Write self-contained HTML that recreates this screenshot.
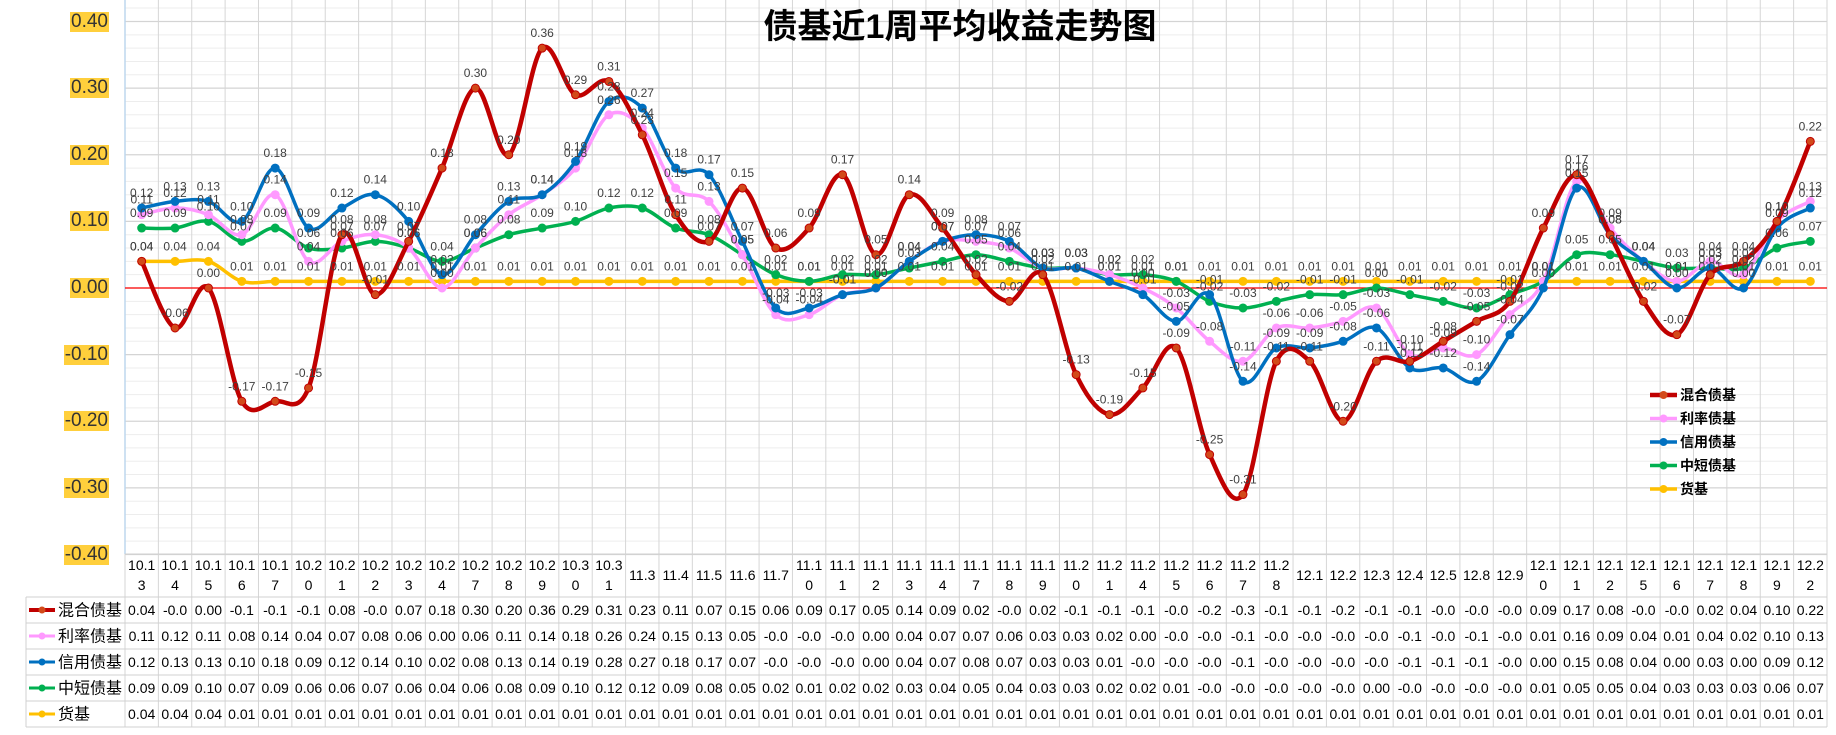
<!DOCTYPE html>
<html><head><meta charset="utf-8"><style>
html,body{margin:0;padding:0;background:#fff;}
#wrap{position:relative;width:1836px;height:735px;overflow:hidden;font-family:"Liberation Sans","Noto Sans CJK SC",sans-serif;}
.yl{position:absolute;right:1727px;background:#FFCF3C;color:#333;font-size:19px;line-height:20px;padding:0 1px;}
</style></head><body>
<div id="wrap">
<svg id="chart" width="1836" height="735" xmlns="http://www.w3.org/2000/svg"></svg>
</div>
<script>
const categories=["10.13","10.14","10.15","10.16","10.17","10.20","10.21","10.22","10.23","10.24","10.27","10.28","10.29","10.30","10.31","11.3","11.4","11.5","11.6","11.7","11.10","11.11","11.12","11.13","11.14","11.17","11.18","11.19","11.20","11.21","11.24","11.25","11.26","11.27","11.28","12.1","12.2","12.3","12.4","12.5","12.8","12.9","12.10","12.11","12.12","12.15","12.16","12.17","12.18","12.19","12.22"];
const hunhe=[0.04,-0.06,0.00,-0.17,-0.17,-0.15,0.08,-0.01,0.07,0.18,0.30,0.20,0.36,0.29,0.31,0.23,0.11,0.07,0.15,0.06,0.09,0.17,0.05,0.14,0.09,0.02,-0.02,0.02,-0.13,-0.19,-0.15,-0.09,-0.25,-0.31,-0.11,-0.11,-0.20,-0.11,-0.11,-0.08,-0.05,-0.02,0.09,0.17,0.08,-0.02,-0.07,0.02,0.04,0.10,0.22];
const lilv=[0.11,0.12,0.11,0.08,0.14,0.04,0.07,0.08,0.06,0.00,0.06,0.11,0.14,0.18,0.26,0.24,0.15,0.13,0.05,-0.04,-0.04,-0.01,0.00,0.04,0.07,0.07,0.06,0.03,0.03,0.02,0.00,-0.03,-0.08,-0.11,-0.06,-0.06,-0.05,-0.03,-0.10,-0.09,-0.10,-0.04,0.01,0.16,0.09,0.04,0.01,0.04,0.02,0.10,0.13];
const xinyong=[0.12,0.13,0.13,0.10,0.18,0.09,0.12,0.14,0.10,0.02,0.08,0.13,0.14,0.19,0.28,0.27,0.18,0.17,0.07,-0.03,-0.03,-0.01,0.00,0.04,0.07,0.08,0.07,0.03,0.03,0.01,-0.01,-0.05,-0.01,-0.14,-0.09,-0.09,-0.08,-0.06,-0.12,-0.12,-0.14,-0.07,0.00,0.15,0.08,0.04,0.00,0.03,0.00,0.09,0.12];
const zhongduan=[0.09,0.09,0.10,0.07,0.09,0.06,0.06,0.07,0.06,0.04,0.06,0.08,0.09,0.10,0.12,0.12,0.09,0.08,0.05,0.02,0.01,0.02,0.02,0.03,0.04,0.05,0.04,0.03,0.03,0.02,0.02,0.01,-0.02,-0.03,-0.02,-0.01,-0.01,0.00,-0.01,-0.02,-0.03,-0.01,0.01,0.05,0.05,0.04,0.03,0.03,0.03,0.06,0.07];
const huoji=[0.04,0.04,0.04,0.01,0.01,0.01,0.01,0.01,0.01,0.01,0.01,0.01,0.01,0.01,0.01,0.01,0.01,0.01,0.01,0.01,0.01,0.01,0.01,0.01,0.01,0.01,0.01,0.01,0.01,0.01,0.01,0.01,0.01,0.01,0.01,0.01,0.01,0.01,0.01,0.01,0.01,0.01,0.01,0.01,0.01,0.01,0.01,0.01,0.01,0.01,0.01];
const seriesNames=["混合债基","利率债基","信用债基","中短债基","货基"];
const yTicks=[0.40,0.30,0.20,0.10,0.00,-0.10,-0.20,-0.30,-0.40];

const NS="http://www.w3.org/2000/svg";
const svg=document.getElementById('chart');
const L=125,R=1827,T=21,B=554;
const colW=(R-L)/categories.length;
function xs(i){return L+colW*(i+0.5);}
function ys(v){return 288-v*(B-T)/0.8;}
function mk(tag,attrs,parent){const e=document.createElementNS(NS,tag);for(const k in attrs)e.setAttribute(k,attrs[k]);(parent||svg).appendChild(e);return e;}

// grid
const grid=mk('g',{});


for(let k=-20;k<=20;k++){const v=k*0.02;const major=Math.abs(Math.round(v*100)%10)===0;
 mk('line',{x1:L,x2:R,y1:ys(v),y2:ys(v),stroke:major?'#D4D4D4':'#EDEDED','stroke-width':major?1.3:1},grid);}
mk('line',{x1:L,x2:R,y1:8,y2:8,stroke:'#EDEDED'},grid);
for(let i=0;i<=categories.length;i++){const x=L+colW*i;mk('line',{x1:x,x2:x,y1:0,y2:727,stroke:'#D6D6D6'},grid);}
mk('line',{x1:L,x2:L,y1:0,y2:554,stroke:'#BDD7EE','stroke-width':1.5},grid);
// table lines
const tb=mk('g',{});


const rowsY=[554,597,623,649,675,701,727];
rowsY.forEach((y,j)=>mk('line',{x1:j<1?L:26,x2:R,y1:y,y2:y,stroke:'#D0D0D0'},tb));
mk('line',{x1:26,x2:26,y1:597,y2:727,stroke:'#D0D0D0'},tb);

// zero line
const z=mk('line',{x1:L,x2:R,y1:ys(0),y2:ys(0),stroke:'#FF0000','stroke-width':1.2});



// title
const title=mk('text',{x:960,y:38,'text-anchor':'middle','font-size':34,'font-weight':'bold',fill:'#000','font-family':'"Liberation Sans","Noto Sans CJK SC",sans-serif'});
title.textContent='债基近1周平均收益走势图';



// y labels
const wrap=document.getElementById('wrap');
yTicks.forEach(v=>{const d=document.createElement('div');d.className='yl';d.textContent=v.toFixed(2);d.style.top=(ys(v)-10)+'px';
 
 
 wrap.appendChild(d);});

function pathFor(vals){const p=vals.map((v,i)=>[xs(i),ys(v)]);let d='M'+p[0][0]+','+p[0][1];
 for(let i=0;i<p.length-1;i++){const p0=p[Math.max(0,i-1)],p1=p[i],p2=p[i+1],p3=p[Math.min(p.length-1,i+2)];
  const c1=[p1[0]+(p2[0]-p0[0])/6,p1[1]+(p2[1]-p0[1])/6],c2=[p2[0]-(p3[0]-p1[0])/6,p2[1]-(p3[1]-p1[1])/6];
  d+=` C${c1[0]},${c1[1]} ${c2[0]},${c2[1]} ${p2[0]},${p2[1]}`;}
 return d;}

const allSeries=[hunhe,lilv,xinyong,zhongduan,huoji];
const colors=['#C00000','#FF99FF','#0070C0','#00B050','#FFC000'];
const mcolors=['#D24A1A','#FF99FF','#0070C0','#00B050','#FFC000'];
const widths=[4.5,3.5,3.5,3.5,3.5];
const keys=['hunhe','lilv','xinyong','zhongduan','huoji'];
const drawOrder=[4,3,1,2,0];
drawOrder.forEach(s=>{const vals=allSeries[s];
 const g=mk('g',{});
 
 
 const pth=mk('path',{d:pathFor(vals),fill:'none',stroke:colors[s],'stroke-width':widths[s],'stroke-linejoin':'round'},g);
 
 
 vals.forEach((v,i)=>{const c=mk('circle',{cx:xs(i),cy:ys(v),r:4,fill:mcolors[s],stroke:s===0?'#C00000':mcolors[s],'stroke-width':1},g);
  
  });
});
// data labels
const lg=mk('g',{});


allSeries.forEach((vals,s)=>vals.forEach((v,i)=>{const t=mk('text',{x:xs(i),y:ys(v)-11,'text-anchor':'middle','font-size':12,fill:'#404040'},lg);t.textContent=v.toFixed(2);}));

// legend in plot
const leg=mk('g',{});


seriesNames.forEach((n,s)=>{const y=395+s*23.5;
 const e=mk('g',{},leg);
 
 
 mk('line',{x1:1650,x2:1677,y1:y,y2:y,stroke:colors[s],'stroke-width':s===0?4.5:3.5},e);
 mk('circle',{cx:1663.5,cy:y,r:4,fill:mcolors[s]},e);
 const t=mk('text',{x:1680,y:y+5,'font-size':14,'font-weight':'bold',fill:'#000'},e);t.textContent=n;});

// category row
categories.forEach((c,i)=>{const x=xs(i);
 const t=mk('text',{x:x,'text-anchor':'middle','font-size':14,fill:'#000'});
 
 
 if(c.length>4){t.setAttribute('y',570);const a=mk('tspan',{x:x},t);a.textContent=c.slice(0,4);const b=mk('tspan',{x:x,dy:20},t);b.textContent=c.slice(4);}
 else{t.setAttribute('y',580);t.textContent=c;}
});
// table rows
allSeries.forEach((vals,s)=>{const yc=(rowsY[s+1]+rowsY[s+2])/2;
 const hdr=mk('g',{});
 
 
 mk('line',{x1:29,x2:55,y1:yc,y2:yc,stroke:colors[s],'stroke-width':s===0?4:3},hdr);
 mk('circle',{cx:42,cy:yc,r:3.5,fill:mcolors[s]},hdr);
 const ht=mk('text',{x:58,y:yc+5.5,'font-size':16,fill:'#000'},hdr);ht.textContent=seriesNames[s];
 vals.forEach((v,i)=>{const t=mk('text',{x:xs(i),y:yc+5,'text-anchor':'middle','font-size':14,fill:'#000'});
  
  
  t.textContent=v.toFixed(2).slice(0,4);});
});
</script>
</body></html>
